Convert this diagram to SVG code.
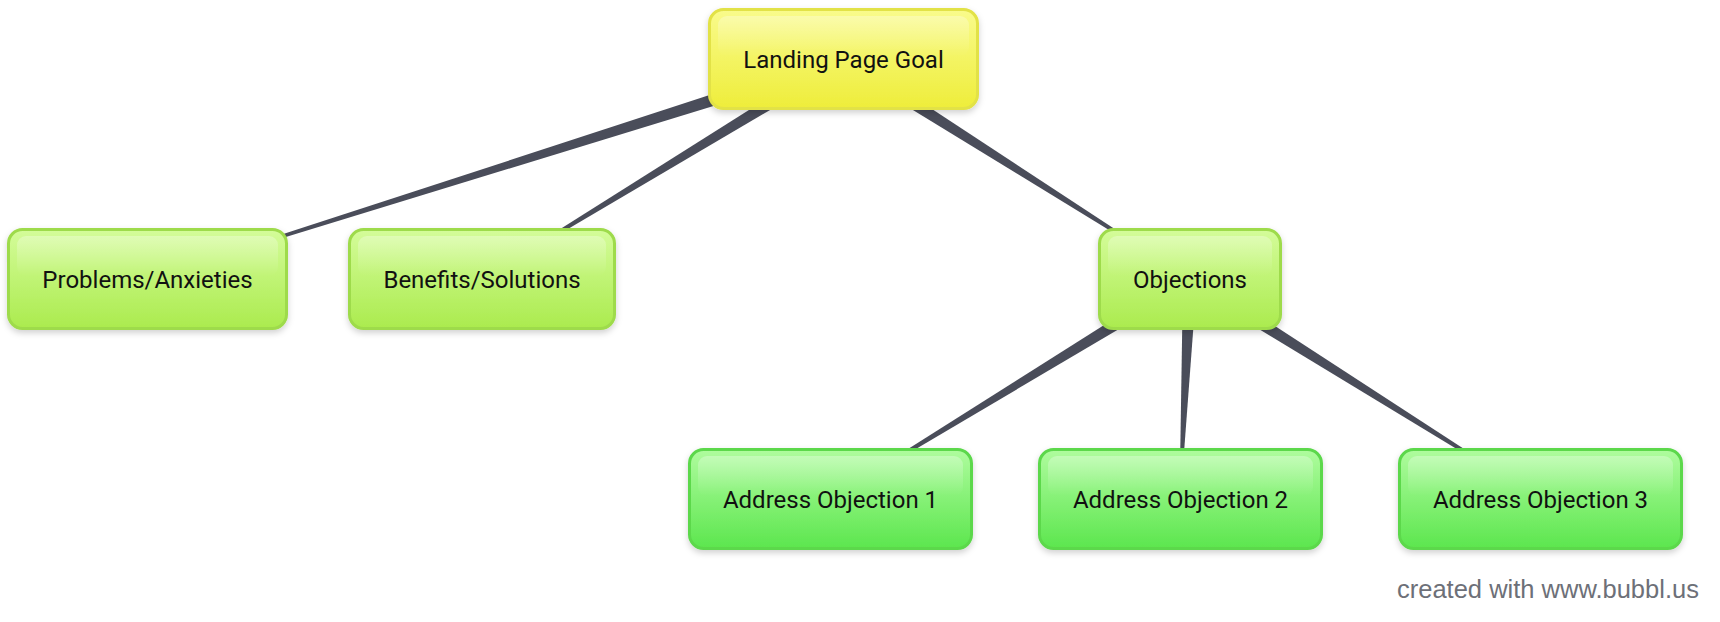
<svg xmlns="http://www.w3.org/2000/svg" width="1720" height="622" viewBox="0 0 1720 622">
<defs>
<linearGradient id="gY" x1="0" y1="0" x2="0" y2="1"><stop offset="0" stop-color="#f9fb8c"/><stop offset="1" stop-color="#eeed3a"/></linearGradient>
<linearGradient id="gL1" x1="0" y1="0" x2="0" y2="1"><stop offset="0" stop-color="#d4fc9a"/><stop offset="1" stop-color="#abeb4e"/></linearGradient>
<linearGradient id="gL2" x1="0" y1="0" x2="0" y2="1"><stop offset="0" stop-color="#affc9e"/><stop offset="1" stop-color="#5ce64e"/></linearGradient>
<linearGradient id="gloss" x1="0" y1="0" x2="0" y2="1"><stop offset="0" stop-color="#ffffff" stop-opacity="0.3"/><stop offset="1" stop-color="#ffffff" stop-opacity="0"/></linearGradient>
<filter id="sh" x="-10%" y="-20%" width="120%" height="150%"><feDropShadow dx="0" dy="3" stdDeviation="3" flood-color="#000" flood-opacity="0.18"/></filter>
</defs>
<style>
.box{stroke-width:3;filter:url(#sh)}
.y{fill:url(#gY);stroke:#e2e246}
.l1{fill:url(#gL1);stroke:#9edb4c}
.l2{fill:url(#gL2);stroke:#5cd84c}
.gl{fill:url(#gloss)}
.t{font-family:Roboto,"Liberation Sans",sans-serif;font-size:24px;fill:#111;text-anchor:middle}
.e{fill:#4a4d5a}
.foot{font-family:"Liberation Sans",Arial,sans-serif;font-size:25.5px;fill:#6d7078}
</style>
<g id="connectors">
<polygon class="e" points="840.9,52.3 845.1,65.7 147.15,279.48 146.85,278.52"/>
<polygon class="e" points="839.4,53.0 846.6,65.0 482.26,279.43 481.74,278.57"/>
<polygon class="e" points="839.3,64.9 846.7,53.1 1190.27,278.58 1189.73,279.42"/>
<polygon class="e" points="1186.4,273.0 1193.6,285.0 830.26,499.43 829.74,498.57"/>
<polygon class="e" points="1183.0,278.7 1197.0,279.3 1180.5,499.02 1179.5,498.98"/>
<polygon class="e" points="1186.3,284.9 1193.7,273.1 1540.27,498.58 1539.73,499.42"/>
</g>
<g id="landing">
<rect class="box y" x="709.5" y="9.5" width="268" height="99" rx="14"/>
<rect class="gl" x="718" y="16" width="251" height="40" rx="9"/>
<text class="t" x="843.5" y="68">Landing Page Goal</text>
</g>
<g id="problems">
<rect class="box l1" x="8.5" y="229.5" width="278" height="99" rx="14"/>
<rect class="gl" x="17" y="236" width="261" height="40" rx="9"/>
<text class="t" x="147.5" y="288">Problems/Anxieties</text>
</g>
<g id="benefits">
<rect class="box l1" x="349.5" y="229.5" width="265" height="99" rx="14"/>
<rect class="gl" x="358" y="236" width="248" height="40" rx="9"/>
<text class="t" x="482" y="288">Benefits/Solutions</text>
</g>
<g id="objections">
<rect class="box l1" x="1099.5" y="229.5" width="181" height="99" rx="14"/>
<rect class="gl" x="1108" y="236" width="164" height="40" rx="9"/>
<text class="t" x="1190" y="288">Objections</text>
</g>
<g id="ao1">
<rect class="box l2" x="689.5" y="449.5" width="282" height="99" rx="14"/>
<rect class="gl" x="698" y="456" width="265" height="40" rx="9"/>
<text class="t" x="830.5" y="508">Address Objection 1</text>
</g>
<g id="ao2">
<rect class="box l2" x="1039.5" y="449.5" width="282" height="99" rx="14"/>
<rect class="gl" x="1048" y="456" width="265" height="40" rx="9"/>
<text class="t" x="1180.5" y="508">Address Objection 2</text>
</g>
<g id="ao3">
<rect class="box l2" x="1399.5" y="449.5" width="282" height="99" rx="14"/>
<rect class="gl" x="1408" y="456" width="265" height="40" rx="9"/>
<text class="t" x="1540.5" y="508">Address Objection 3</text>
</g>
<text class="foot" x="1397" y="598">created with www.bubbl.us</text>
</svg>
